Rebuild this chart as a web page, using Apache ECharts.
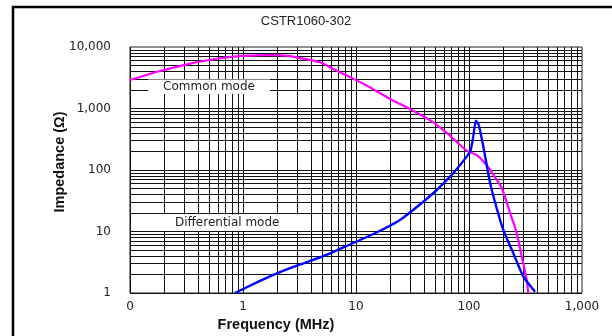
<!DOCTYPE html>
<html>
<head>
<meta charset="utf-8">
<script src="https://cdn.jsdelivr.net/npm/echarts@6/dist/echarts.min.js"></script>
<style>
html,body{margin:0;padding:0;background:#fff;}
#main{width:612px;height:336px;}
</style>
</head>
<body>
<div id="main"></div>
<script>
const chartTitle = 'CSTR1060-302';
const xAxisTitle = 'Frequency (MHz)';
const yAxisTitle = 'Impedance (\u03A9)';
const xTicks = [0.1, 1, 10, 100, 1000];
const xTickLabels = ['0', '1', '10', '100', '1,000'];
const yTicks = [1, 10, 100, 1000, 10000];
const yTickLabels = ['1', '10', '100', '1,000', '10,000'];

const commonName = 'Common mode';
const commonFreq = [0.1, 0.18, 0.35, 0.5, 0.7, 1, 1.5, 2, 2.6, 3.2, 4.8, 6.3, 8.9, 12.5, 20, 30, 48, 68, 96, 117, 143, 176, 195, 231, 264, 293, 324, 335];
const commonZ    = [2900, 4030, 5430, 6150, 6750, 7150, 7400, 7400, 7100, 6600, 5640, 4390, 3215, 2350, 1430, 980, 600, 360, 205, 175, 120, 69, 51, 20, 9.4, 3.9, 1.63, 1];

const diffName = 'Differential mode';
const diffFreq = [0.85, 1.37, 2.0, 3.0, 5.0, 8.0, 14.7, 24.5, 39.4, 51.8, 63.5, 72.6, 102, 109, 115, 122, 134, 148, 159, 201, 247, 303, 384];
const diffZ    = [1, 1.53, 2.09, 2.78, 3.89, 5.66, 9.35, 15.4, 30.5, 47.3, 68.8, 88.4, 198, 348, 634, 540, 239, 88, 47.3, 10.6, 4.42, 1.84, 1.05];

function zip(a, b) { return a.map((v, i) => [v, b[i]]); }
function lookup(v, ticks, labels) {
  for (let i = 0; i < ticks.length; i++) {
    if (Math.abs(Math.log10(v) - Math.log10(ticks[i])) < 1e-6) return labels[i];
  }
  return '';
}
// grid line values (1..9 per decade)
const xGrid = [], yGrid = [];
[0.1, 1, 10, 100].forEach(d => { for (let k = 1; k <= 9; k++) xGrid.push(k * d); });
[1, 10, 100, 1000].forEach(d => { for (let k = 1; k <= 9; k++) yGrid.push(k * d); });

const gridLines = xGrid.map(v => ({ xAxis: v })).concat(yGrid.map(v => ({ yAxis: v })));

const chart = echarts.init(document.getElementById('main'), null, { renderer: 'canvas' });
const tickFont = { fontFamily: 'DejaVu Sans', fontSize: 12, color: '#222' };

chart.setOption({
  animation: false,
  backgroundColor: '#fff',
  title: {
    text: chartTitle, left: 'center', top: 10,
    textStyle: { fontFamily: 'Liberation Sans', fontSize: 13, fontWeight: 'normal', color: '#222' }
  },
  grid: {
    left: 130, top: 47, width: 452, height: 246,
    show: true, borderColor: '#222', borderWidth: 1, backgroundColor: '#fff'
  },
  xAxis: {
    type: 'log', logBase: 10, min: 0.1, max: 1000,
    axisLine: { show: false }, axisTick: { show: false }, splitLine: { show: false },
    axisLabel: Object.assign({ margin: 8, formatter: v => lookup(v, xTicks, xTickLabels) }, tickFont)
  },
  yAxis: {
    type: 'log', logBase: 10, min: 1, max: 10000,
    axisLine: { show: false }, axisTick: { show: false }, splitLine: { show: false },
    axisLabel: Object.assign({ margin: 19, formatter: v => lookup(v, yTicks, yTickLabels) }, tickFont)
  },
  graphic: [
    { type: 'rect', z: 100, shape: { x: 13, y: 7, width: 800, height: 600 }, style: { fill: 'none', stroke: '#000', lineWidth: 2.5 } },
    { type: 'rect', z: 100, shape: { x: 148, y: 79.5, width: 122, height: 14.5 }, style: { fill: '#fff' } },
    { type: 'text', z: 101, x: 209, y: 87, style: { text: commonName, fontFamily: 'DejaVu Sans', fontSize: 12, fill: '#222', align: 'center', verticalAlign: 'middle' } },
    { type: 'rect', z: 100, shape: { x: 131, y: 214.5, width: 179, height: 16.5 }, style: { fill: '#fff' } },
    { type: 'text', z: 101, x: 175, y: 223, style: { text: diffName, fontFamily: 'DejaVu Sans', fontSize: 12, fill: '#222', align: 'left', verticalAlign: 'middle' } },
    { type: 'text', z: 101, x: 276, y: 325, style: { text: xAxisTitle, fontFamily: 'Liberation Sans', fontSize: 14.5, fontWeight: 'bold', fill: '#111', align: 'center', verticalAlign: 'middle' } },
    { type: 'text', z: 101, x: 60, y: 162, rotation: Math.PI / 2, style: { text: yAxisTitle, fontFamily: 'Liberation Sans', fontSize: 14.5, fontWeight: 'bold', fill: '#111', align: 'center', verticalAlign: 'middle' } }
  ],
  series: [
    {
      name: commonName, type: 'line', z: 200, data: zip(commonFreq, commonZ),
      showSymbol: false, smooth: 0.3, clip: true,
      lineStyle: { color: '#ff00ff', width: 2.2 },
      markLine: {
        z: 1, silent: true, symbol: ['none', 'none'], label: { show: false },
        lineStyle: { color: '#111', width: 1, type: 'solid' },
        emphasis: { disabled: true },
        data: gridLines
      }
    },
    {
      name: diffName, type: 'line', z: 200, data: zip(diffFreq, diffZ),
      showSymbol: false, smooth: 0.2, clip: true,
      lineStyle: { color: '#0000ff', width: 2.4 }
    }
  ]
});
</script>
</body>
</html>
